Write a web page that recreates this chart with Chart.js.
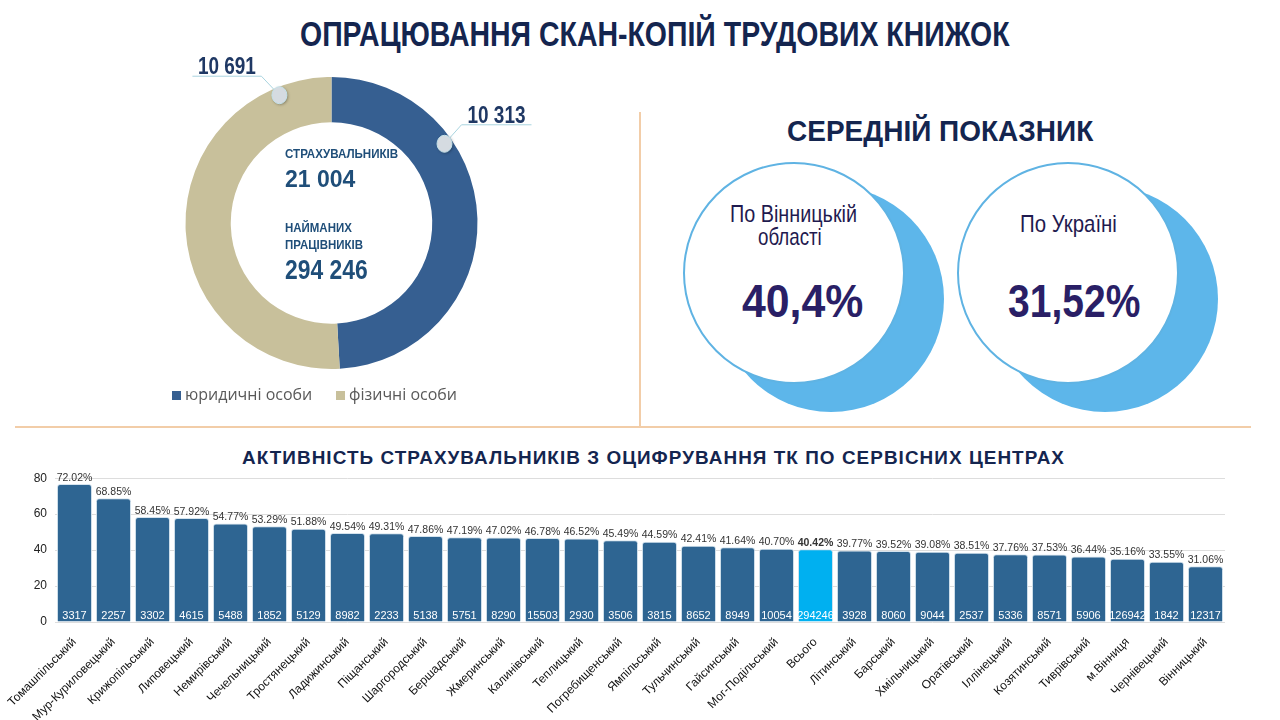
<!DOCTYPE html>
<html>
<head>
<meta charset="utf-8">
<script src="https://cdn.jsdelivr.net/npm/chart.js@4.4.1/dist/chart.umd.min.js"></script>
<style>
  html, body { margin: 0; padding: 0; background: #fff; }
  body { width: 1280px; height: 720px; position: relative; overflow: hidden;
         font-family: "Liberation Sans", Arial, sans-serif; }
  .abs { position: absolute; }
  .fit { position: absolute; white-space: nowrap; line-height: 1; transform-origin: 0 0; }
  .navy { color: #14254f; font-weight: bold; }
  .vline { left: 639px; top: 112px; width: 2px; height: 314px; background: #f2cda8; }
  .hline { left: 15px; top: 426px; width: 1236px; height: 2px; background: #f2cda8; }
  .bubble { width: 226px; height: 226px; border-radius: 50%; box-sizing: border-box; }
  .bubble.back { background: #5db6ea; }
  .bubble.front { background: #fff; border: 2px solid #5fb3e3; width: 222px; height: 222px; }
  .ctext { color: #1f1a4f; font-size: 24px; }
  .cval { color: #2a1f66; font-size: 47px; font-weight: bold; }
  .dtext { color: #1f4e79; font-weight: bold; }
  .legend { top: 383px; font-size: 16px; color: #595959; font-family: "Open Sans", "Noto Sans", sans-serif; }
  .legend span.sq { display: inline-block; width: 9px; height: 9px; margin-right: 4px; }
</style>
</head>
<body>
<div class="fit navy" style="top:15.5px;font-size:35px;" data-cx="655" data-w="710">ОПРАЦЮВАННЯ СКАН-КОПІЙ ТРУДОВИХ КНИЖОК</div>

<canvas id="donut" class="abs" width="400" height="360" style="left:160px;top:50px;"></canvas>
<div class="fit dtext" style="top:147.5px;font-size:12.5px;" data-x="285" data-w="113">СТРАХУВАЛЬНИКІВ</div>
<div class="fit dtext" style="top:167px;font-size:24px;" data-x="285" data-w="70">21 004</div>
<div class="fit dtext" style="top:222px;font-size:12.5px;" data-x="285" data-w="67">НАЙМАНИХ</div>
<div class="fit dtext" style="top:239px;font-size:12.5px;" data-x="285" data-w="78">ПРАЦІВНИКІВ</div>
<div class="fit dtext" style="top:256.5px;font-size:27px;" data-x="285" data-w="83">294 246</div>
<div class="abs legend" style="left:172px;"><span class="sq" style="background:#365f91"></span>юридичні особи</div>
<div class="abs legend" style="left:336px;"><span class="sq" style="background:#c8c09b"></span>фізичні особи</div>

<div class="abs vline"></div>
<div class="abs hline"></div>

<div class="fit navy" style="top:117px;font-size:29px;" data-cx="940" data-w="306">СЕРЕДНІЙ ПОКАЗНИК</div>
<div class="abs bubble back" style="left:718px;top:186px;"></div>
<div class="abs bubble front" style="left:683px;top:162px;"></div>
<div class="fit ctext" style="top:202px;" data-cx="793.5" data-w="127">По Вінницькій</div>
<div class="fit ctext" style="top:224.5px;" data-cx="790" data-w="64">області</div>
<div class="fit cval" style="top:277px;" data-cx="802.5" data-w="121">40,4%</div>
<div class="abs bubble back" style="left:992px;top:186px;"></div>
<div class="abs bubble front" style="left:957px;top:162px;"></div>
<div class="fit ctext" style="top:212px;" data-cx="1068.5" data-w="97">По Україні</div>
<div class="fit cval" style="top:277px;" data-cx="1074" data-w="132">31,52%</div>

<div class="fit navy" style="top:449px;font-size:18px;color:#14254f;letter-spacing:1px;" data-cx="653.5" data-w="823">АКТИВНІСТЬ СТРАХУВАЛЬНИКІВ З ОЦИФРУВАННЯ ТК ПО СЕРВІСНИХ ЦЕНТРАХ</div>
<canvas id="bars" class="abs" width="1280" height="257" style="left:0;top:463px;"></canvas>

<script>
// donut data
const donutLabels = ['юридичні особи', 'фізичні особи']
const donutValues = [10313, 10691]
const donutText = ['10 313', '10 691']
const donutColors = ['#365f91', '#c8c09b']

// bar chart data
const centers = ['Томашпільський', 'Мур-Куриловецький', 'Крижопільський', 'Липовецький', 'Немирівський',
  'Чечельницький', 'Тростянецький', 'Ладижинський', 'Піщанський', 'Шаргородський', 'Бершадський',
  'Жмеринський', 'Калинівський', 'Теплицький', 'Погребищенський', 'Ямпільський', 'Тульчинський',
  'Гайсинський', 'Мог-Подільський', 'Всього', 'Літинський', 'Барський', 'Хмільницький', 'Оратівський',
  'Іллінецький', 'Козятинський', 'Тиврівський', 'м.Вінниця', 'Чернівецький', 'Вінницький']
const percents = [72.02, 68.85, 58.45, 57.92, 54.77, 53.29, 51.88, 49.54, 49.31, 47.86, 47.19, 47.02,
  46.78, 46.52, 45.49, 44.59, 42.41, 41.64, 40.70, 40.42, 39.77, 39.52, 39.08, 38.51, 37.76, 37.53,
  36.44, 35.16, 33.55, 31.06]
// bar heights as drawn (first bar is taller than its label)
const barHeights = [76.8, 68.85, 58.45, 57.92, 54.77, 53.29, 51.88, 49.54, 49.31, 47.86, 47.19, 47.02,
  46.78, 46.52, 45.49, 44.59, 42.41, 41.64, 40.70, 40.42, 39.77, 39.52, 39.08, 38.51, 37.76, 37.53,
  36.44, 35.16, 33.55, 31.06]
const counts = [3317, 2257, 3302, 4615, 5488, 1852, 5129, 8982, 2233, 5138, 5751, 8290, 15503, 2930,
  3506, 3815, 8652, 8949, 10054, 294246, 3928, 8060, 9044, 2537, 5336, 8571, 5906, 126942, 1842, 12317]
const yTicks = [0, 20, 40, 60, 80]
const totalLabel = 'Всього'

// squeeze text boxes to the widths of the condensed font in the original
document.querySelectorAll('.fit').forEach(el => {
  const w = +el.dataset.w
  el.style.transform = 'scaleX(' + (w / el.offsetWidth) + ')'
  el.style.left = (el.dataset.cx ? el.dataset.cx - w / 2 : +el.dataset.x) + 'px'
})

// callout placement: fraction along the arc, elbow offset, horizontal run
const callouts = [
  {frac: 0.311, dx: 17, dy: -19, run: 70},
  {frac: 0.879, dx: -18, dy: -19, run: -69}
]

const donutCallouts = {
  id: 'donutCallouts',
  afterDatasetsDraw(chart) {
    const ctx = chart.ctx
    const meta = chart.getDatasetMeta(0)
    meta.data.forEach((arc, i) => {
      const c = callouts[i]
      const a = arc.startAngle + (arc.endAngle - arc.startAngle) * c.frac
      const r = arc.outerRadius - 8
      const mx = arc.x + Math.cos(a) * r
      const my = arc.y + Math.sin(a) * r
      const ex = mx + c.dx, ey = my + c.dy
      ctx.save()
      ctx.strokeStyle = '#a9d4df'
      ctx.lineWidth = 1
      ctx.beginPath()
      ctx.moveTo(mx, my)
      ctx.lineTo(ex, ey)
      ctx.lineTo(ex + c.run, ey)
      ctx.stroke()
      ctx.shadowColor = 'rgba(0,0,0,0.35)'
      ctx.shadowBlur = 3
      ctx.shadowOffsetX = 1
      ctx.shadowOffsetY = 1
      ctx.fillStyle = '#d5dbe1'
      ctx.beginPath()
      ctx.ellipse(mx, my, 7.5, 8.5, 0, 0, Math.PI * 2)
      ctx.fill()
      ctx.shadowColor = 'transparent'
      ctx.strokeStyle = '#c4e2ea'
      ctx.stroke()
      // label, squeezed to the narrow width
      ctx.fillStyle = '#1f3864'
      ctx.font = 'bold 24px "Liberation Sans", Arial, sans-serif'
      const tw = ctx.measureText(donutText[i]).width
      const sx = 58 / tw
      ctx.translate(ex + c.run / 2, ey - 2)
      ctx.scale(sx, 1)
      ctx.textAlign = 'center'
      ctx.textBaseline = 'alphabetic'
      ctx.fillText(donutText[i], 0, 0)
      ctx.restore()
    })
  }
}

new Chart(document.getElementById('donut').getContext('2d'), {
  type: 'doughnut',
  data: {
    labels: donutLabels,
    datasets: [{data: donutValues, backgroundColor: donutColors, borderWidth: 0}]
  },
  options: {
    responsive: false,
    animation: false,
    cutout: '69%',
    layout: {padding: {left: 25.5, right: 82.5, top: 27, bottom: 41}},
    plugins: {legend: {display: false}, tooltip: {enabled: false}}
  },
  plugins: [donutCallouts]
})

const barLabels = {
  id: 'barLabels',
  afterDatasetsDraw(chart) {
    const ctx = chart.ctx
    const meta = chart.getDatasetMeta(0)
    ctx.save()
    ctx.textAlign = 'center'
    meta.data.forEach((bar, i) => {
      const isTotal = centers[i] === totalLabel
      ctx.fillStyle = '#333'
      ctx.font = (isTotal ? 'bold ' : '') + '10.5px "Liberation Sans", Arial, sans-serif'
      ctx.textBaseline = 'bottom'
      ctx.fillText(percents[i].toFixed(2) + '%', bar.x, bar.y - 1)
      ctx.fillStyle = '#fff'
      ctx.font = '11px "Liberation Sans", Arial, sans-serif'
      ctx.textBaseline = 'alphabetic'
      ctx.fillText(String(counts[i]), bar.x, bar.base - 3)
    })
    ctx.restore()
  }
}

new Chart(document.getElementById('bars').getContext('2d'), {
  type: 'bar',
  data: {
    labels: centers,
    datasets: [{
      data: barHeights,
      backgroundColor: centers.map(c => c === totalLabel ? '#00b0f0' : '#2e6592'),
      borderColor: '#d4e3ee',
      borderWidth: 1,
      borderRadius: {topLeft: 3, topRight: 3},
      borderSkipped: 'bottom',
      barPercentage: 0.9,
      categoryPercentage: 1.0
    }]
  },
  options: {
    responsive: false,
    animation: false,
    layout: {padding: {left: 0, right: 55, top: 1, bottom: 0}},
    plugins: {legend: {display: false}, tooltip: {enabled: false}},
    scales: {
      x: {
        grid: {display: false},
        border: {display: false},
        ticks: {
          maxRotation: 45, minRotation: 45, autoSkip: false, padding: 5,
          color: '#111', font: {size: 12, family: '"Liberation Sans", Arial, sans-serif'}
        },
        afterFit: scale => { scale.height = 98 }
      },
      y: {
        min: 0, max: 80,
        afterBuildTicks: scale => { scale.ticks = yTicks.map(v => ({value: v})) },
        grid: {color: '#dddddd', drawTicks: false},
        border: {display: false},
        ticks: {padding: 8, color: '#222', font: {size: 12, family: '"Liberation Sans", Arial, sans-serif'}},
        afterFit: scale => { scale.width = 55 }
      }
    }
  },
  plugins: [barLabels]
})
</script>
</body>
</html>
